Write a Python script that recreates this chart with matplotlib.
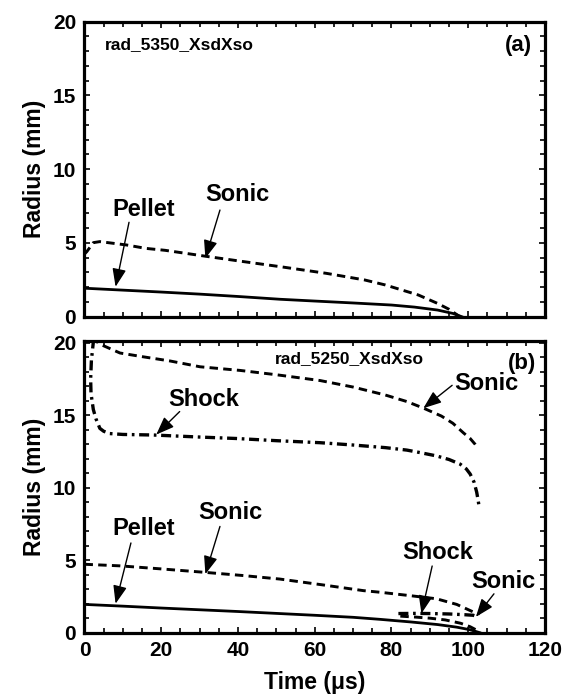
import matplotlib
matplotlib.use("Agg")
import matplotlib.pyplot as plt
from matplotlib.ticker import MultipleLocator

plt.rcParams['font.family'] = ['Liberation Sans', 'DejaVu Sans']
plt.rcParams['font.weight'] = 'bold'

# ---------------- data: panel (a) ----------------
a_pellet_t = [0, 10, 20, 30, 40, 51, 60, 70, 80, 86, 92, 96, 98.3]
a_pellet_r = [1.93, 1.80, 1.67, 1.53, 1.37, 1.18, 1.06, 0.93, 0.79, 0.65, 0.45, 0.22, 0.0]
a_sonic_t = [0, 0.6, 2.3, 4, 11, 16, 21, 31.5, 41, 51, 63, 73, 78.4, 87, 92, 95, 97.8]
a_sonic_r = [4.25, 4.41, 5.02, 5.09, 4.86, 4.63, 4.5, 4.1, 3.75, 3.39, 2.94, 2.49, 2.15, 1.47, 0.9, 0.5, 0.0]

# ---------------- data: panel (b) ----------------
b_pellet_t = [0, 10, 20, 30, 40, 50, 60, 70, 77, 85, 92, 97, 100.5, 102, 103]
b_pellet_r = [1.95, 1.83, 1.70, 1.58, 1.46, 1.33, 1.20, 1.06, 0.92, 0.74, 0.56, 0.38, 0.2, 0.08, 0.0]
b_sonic_low_t = [0, 9.3, 20, 31.5, 41, 50.9, 62, 72.7, 77, 85, 91.7, 97, 101.3, 103]
b_sonic_low_r = [4.72, 4.61, 4.4, 4.16, 3.95, 3.7, 3.3, 2.9, 2.79, 2.55, 2.34, 1.95, 1.43, 1.3]
b_shock_low_t = [81.8, 86, 90, 95, 99, 101.3, 102.5]
b_shock_low_r = [1.32, 1.33, 1.32, 1.29, 1.24, 1.2, 1.1]
b_sonic_in_t = [82.3, 86, 90, 94, 98, 100.5, 102, 103]
b_sonic_in_r = [1.14, 1.08, 1.0, 0.88, 0.65, 0.41, 0.2, 0.05]
b_sonic_up_t = [2.5, 3.6, 9.25, 15, 22.3, 30.1, 40.5, 50, 61.4, 70, 78.4, 84, 88.3, 93, 96, 98.7, 100.5, 101.8, 102.3]
b_sonic_up_r = [20.5, 19.96, 19.3, 19.05, 18.75, 18.35, 18.1, 17.8, 17.4, 16.95, 16.4, 15.95, 15.5, 14.95, 14.45, 13.8, 13.4, 13.0, 12.8]
b_shock_up_t = [2.4, 1.8, 1.6, 1.7, 2.3, 3.0, 4.0, 5.0, 6.6, 10, 18, 30, 39.6, 50, 61.4, 70, 78.4, 84, 87.4,
                91.7, 95, 97.9, 99.5, 100.5, 101.5, 102.2, 102.6, 102.9]
b_shock_up_r = [20.3, 18.8, 17.5, 16.5, 15.4, 14.75, 14.1, 13.9, 13.74, 13.68, 13.64, 13.5, 13.4, 13.25, 13.11,
                12.95, 12.77, 12.6, 12.43, 12.2, 11.95, 11.63, 11.3, 10.95, 10.4, 9.7, 9.1, 8.57]

x_ticks = [0, 20, 40, 60, 80, 100, 120]
y_ticks = [0, 5, 10, 15, 20]

DASH = (0, (2.9, 1.8))
DASHDOT = (0, (3.0, 1.4, 0.8, 1.4))

fig = plt.figure(figsize=(5.69, 6.98), dpi=100)
ax1 = fig.add_axes([0.1485, 0.5463, 0.8093, 0.4226])
ax2 = fig.add_axes([0.1485, 0.0936, 0.8093, 0.4183])

for ax in (ax1, ax2):
    ax.set_xlim(0, 120)
    ax.set_xticks(x_ticks)
    ax.set_yticks(y_ticks)
    ax.xaxis.set_minor_locator(MultipleLocator(5))
    ax.yaxis.set_minor_locator(MultipleLocator(1))
    ax.tick_params(which='both', direction='in', top=True, right=True, width=1.2)
    ax.tick_params(which='major', length=4, labelsize=15, pad=6)
    ax.tick_params(which='minor', length=3.5)
    for s in ax.spines.values():
        s.set_linewidth(2.3)
    for lab in ax.get_xticklabels() + ax.get_yticklabels():
        lab.set_fontweight('bold')
    ax.set_ylabel('Radius (mm)', fontsize=16.5, fontweight='bold', labelpad=5)

ax1.set_ylim(0, 20)
ax2.set_ylim(0, 20.15)
ax1.tick_params(labelbottom=False)
ax2.set_xlabel('Time (\u03bcs)', fontsize=16.5, fontweight='bold', labelpad=8)

# panel a
ax1.plot(a_pellet_t, a_pellet_r, color='k', lw=2.0)
ax1.plot(a_sonic_t, a_sonic_r, color='k', lw=2.1, linestyle=DASH)

# panel b
ax2.plot(b_pellet_t, b_pellet_r, color='k', lw=2.0)
ax2.plot(b_sonic_low_t, b_sonic_low_r, color='k', lw=2.1, linestyle=DASH)
ax2.plot(b_shock_low_t, b_shock_low_r, color='k', lw=2.4, linestyle=DASHDOT)
ax2.plot(b_sonic_in_t, b_sonic_in_r, color='k', lw=2.1, linestyle=DASH)
ax2.plot(b_sonic_up_t, b_sonic_up_r, color='k', lw=2.1, linestyle=DASH)
ax2.plot(b_shock_up_t, b_shock_up_r, color='k', lw=2.4, linestyle=DASHDOT)

arrow = dict(arrowstyle='-|>,head_length=1.1,head_width=0.42', lw=1.0, color='k',
             shrinkA=0, shrinkB=0)

def label(ax, text, txy, tail, head):
    ax.text(txy[0], txy[1], text, fontsize=17, fontweight='bold', ha='center', va='center')
    ax.annotate('', xy=head, xytext=tail, arrowprops=arrow)

label(ax1, 'Pellet', (15.3, 7.3), (11.6, 6.4), (8.1, 2.03))
label(ax1, 'Sonic', (39.8, 8.3), (35.3, 7.23), (31.5, 3.96))
ax1.text(5.4, 18.45, 'rad_5350_XsdXso', fontsize=12.5, fontweight='bold', ha='left', va='center')
ax1.text(116.5, 18.4, '(a)', fontsize=16, fontweight='bold', ha='right', va='center')

label(ax2, 'Pellet', (15.3, 7.2), (12.1, 6.19), (8.1, 2.0))
label(ax2, 'Sonic', (37.9, 8.28), (35.3, 7.33), (31.5, 4.04))
label(ax2, 'Shock', (31.0, 16.1), (24.8, 15.26), (18.7, 13.67))
label(ax2, 'Sonic', (104.6, 17.2), (95.8, 17.07), (88.3, 15.49))
label(ax2, 'Shock', (92.1, 5.5), (90.6, 4.6), (87.8, 1.32))
label(ax2, 'Sonic', (109.1, 3.5), (106.7, 2.68), (102.0, 1.09))
ax2.text(49.5, 18.9, 'rad_5250_XsdXso', fontsize=12.5, fontweight='bold', ha='left', va='center')
ax2.text(117.6, 18.55, '(b)', fontsize=16, fontweight='bold', ha='right', va='center')

fig.savefig('out.png', dpi=100)
